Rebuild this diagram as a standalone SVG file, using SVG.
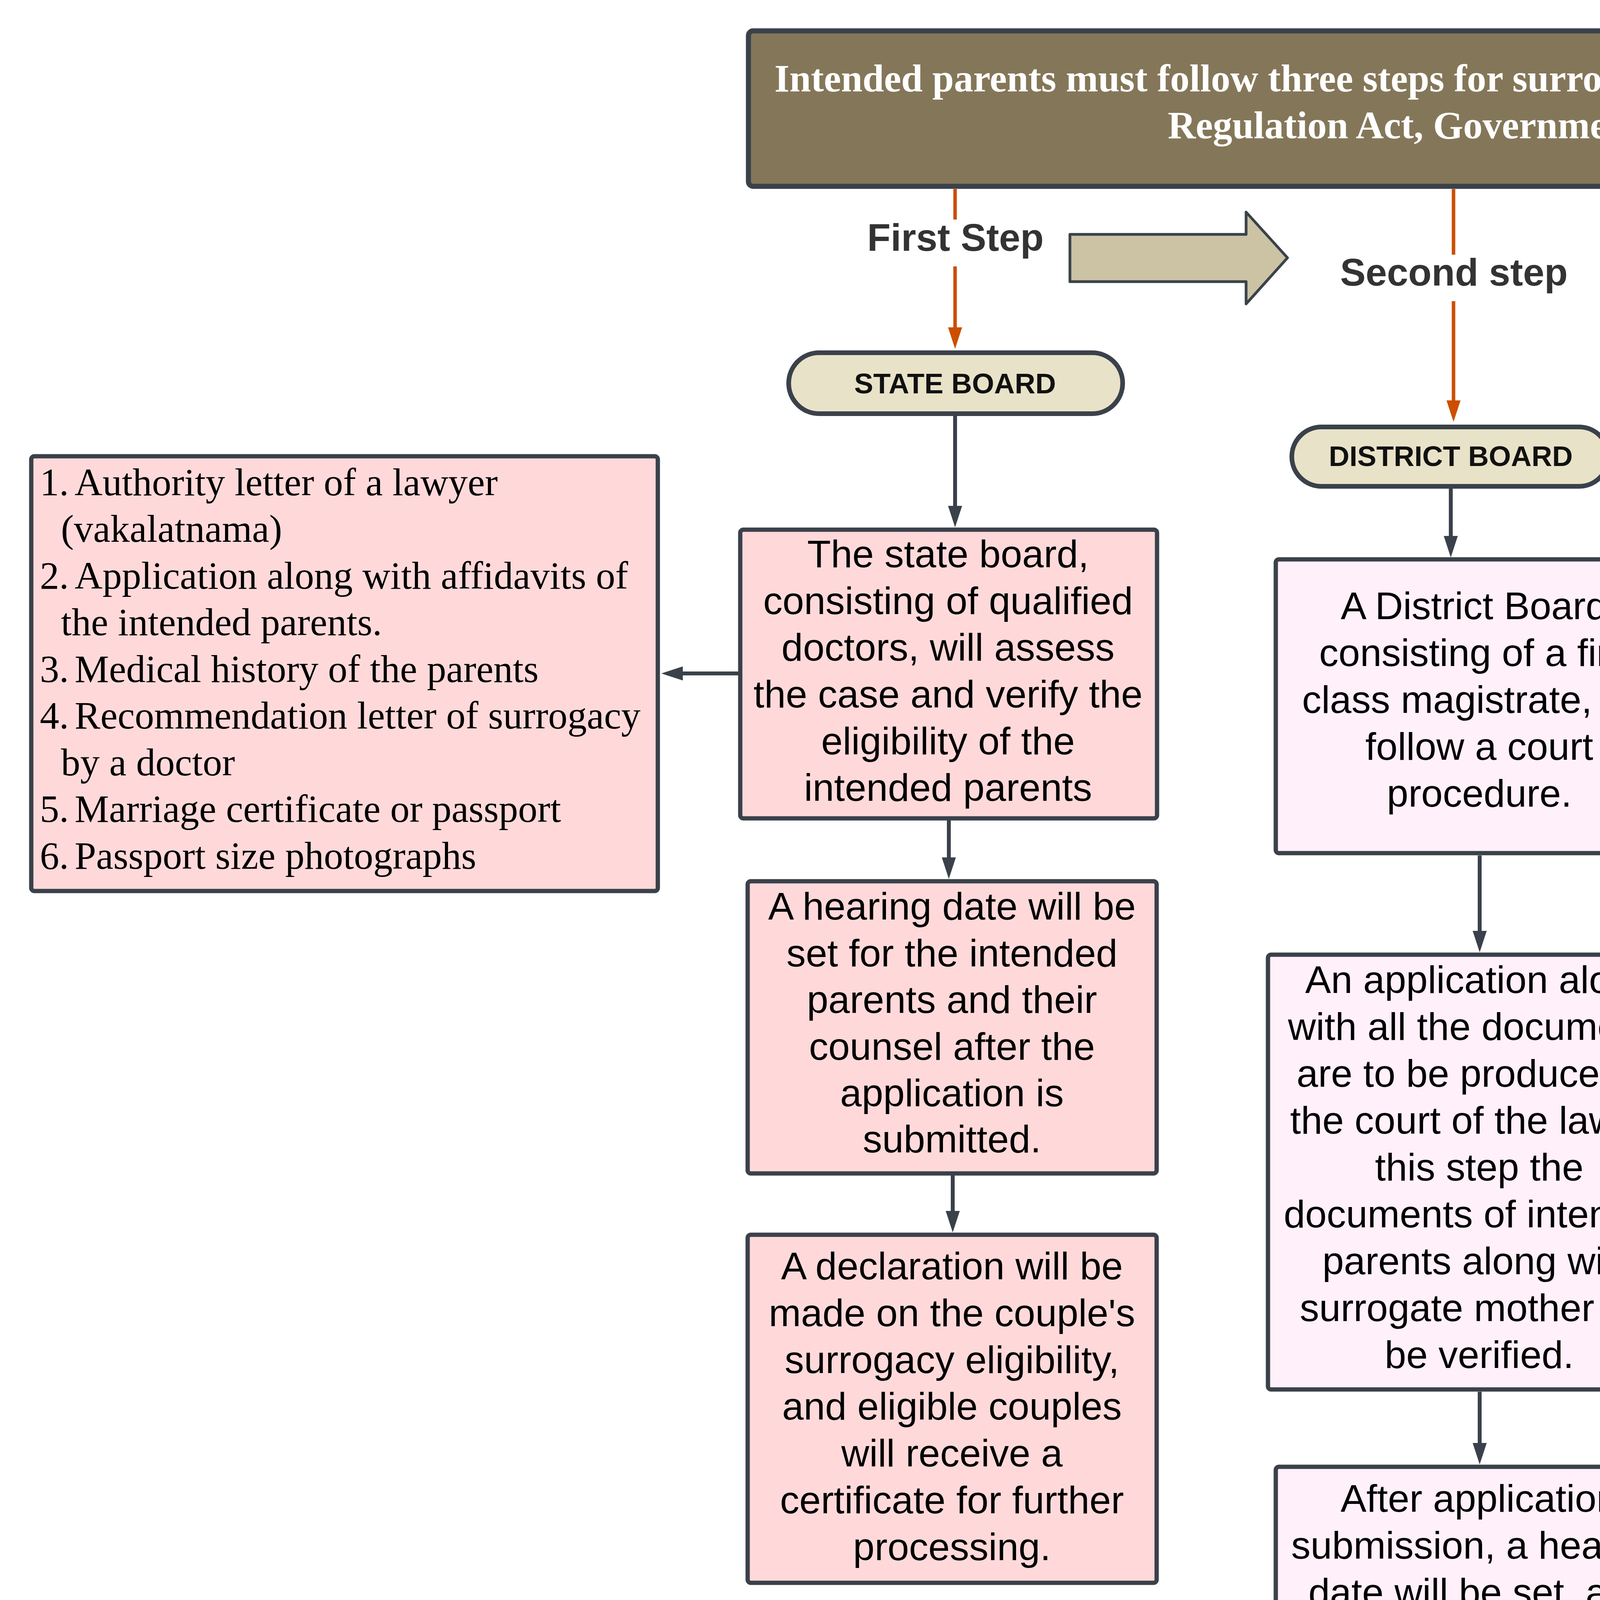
<svg xmlns="http://www.w3.org/2000/svg" width="5738" height="4871" viewBox="0 0 5738 4871">
<defs>
<style>
.box{stroke:#3a414a;stroke-width:11}
.a{fill:#FFD9DA}.b{fill:#FFF0FA}.c{fill:#D6F8F1}
.t{font-family:"Liberation Sans",Arial,sans-serif;font-size:99px;fill:#000;text-anchor:middle}
.lbl{font-family:"Liberation Sans",Arial,sans-serif;font-weight:bold;font-size:98px;fill:#333;text-anchor:middle}
.pill{fill:#E8E2C8;stroke:#3a414a;stroke-width:12}
.pt{font-family:"Liberation Sans",Arial,sans-serif;font-weight:bold;font-size:73px;fill:#111;text-anchor:middle}
.list{font-family:"Liberation Serif","Times New Roman",serif;font-size:99px;fill:#000}
.title{font-family:"Liberation Serif","Times New Roman",serif;font-weight:bold;font-size:99px;fill:#fff;text-anchor:middle}
.or{stroke:#CC4E00;stroke-width:9;fill:none}
.dk{stroke:#3a414a;stroke-width:10;fill:none}
.blk{fill:#CBC3A4;stroke:#3a414a;stroke-width:7;stroke-linejoin:round}
</style>
<marker id="mo" markerUnits="userSpaceOnUse" markerWidth="60" markerHeight="40" refX="0" refY="18" orient="auto">
<path d="M0,0 L55,18 L0,36 Z" fill="#CC4E00"/>
</marker>
<marker id="md" markerUnits="userSpaceOnUse" markerWidth="60" markerHeight="40" refX="0" refY="18" orient="auto">
<path d="M0,0 L55,18 L0,36 Z" fill="#3a414a"/>
</marker>
</defs>
<rect width="5738" height="4871" fill="#fff"/>

<g id="title">
<rect x="1916" y="79" width="3743" height="398" rx="12" fill="#847759" stroke="#3a414a" stroke-width="13"/>
<text class="title"><tspan x="3787" y="234">Intended parents must follow three steps for surrogacy approval under the Surrogacy</tspan><tspan x="3787" y="354">Regulation Act, Government of India.</tspan></text>
</g>

<g id="connectors">
<path class="or" d="M2445,484 V562"/>
<path class="or" d="M2445,682 V838" marker-end="url(#mo)"/>
<path class="or" d="M3721,484 V652"/>
<path class="or" d="M3721,771 V1025" marker-end="url(#mo)"/>
<path class="or" d="M5161,484 V602"/>
<path class="or" d="M5161,721 V837" marker-end="url(#mo)"/>
<path class="dk" d="M2445,1065 V1295" marker-end="url(#md)"/>
<path class="dk" d="M3714,1251 V1372" marker-end="url(#md)"/>
<path class="dk" d="M5110,1065 V1295" marker-end="url(#md)"/>
<path class="dk" d="M1892,1724 H1748" marker-end="url(#md)"/>
<path class="dk" d="M2429,2100 V2195" marker-end="url(#md)"/>
<path class="dk" d="M2439,3009 V3100" marker-end="url(#md)"/>
<path class="dk" d="M3788,2190 V2383" marker-end="url(#md)"/>
<path class="dk" d="M3788,3563 V3694" marker-end="url(#md)"/>
<path class="dk" d="M5138,2100 V2195" marker-end="url(#md)"/>
<path class="dk" d="M5138,3014 V3111" marker-end="url(#md)"/>
</g>

<g id="step-labels">
<text class="lbl" x="2446" y="642">First Step</text>
<text class="lbl" x="3722" y="731">Second step</text>
<text class="lbl" x="5160" y="681">Last Step</text>
</g>

<g id="block-arrow-1">
<path class="blk" d="M2739,600 L3190,600 L3190,543 L3296,660 L3190,778 L3190,721 L2739,721 Z"/>
</g>
<g id="block-arrow-2">
<path class="blk" d="M4163,600 L4613,600 L4613,543 L4720,662 L4613,783 L4613,724 L4163,724 Z"/>
</g>

<g id="state-board-1">
<rect class="pill" x="2019" y="903" width="855" height="156" rx="78"/>
<text class="pt" x="2445" y="1007">STATE BOARD</text>
</g>
<g id="district-board">
<rect class="pill" x="3307" y="1093" width="811" height="152" rx="76"/>
<text class="pt" x="3714" y="1193">DISTRICT BOARD</text>
</g>
<g id="state-board-2">
<rect class="pill" x="4664" y="903" width="892" height="156" rx="78"/>
<text class="pt" x="5111" y="1007">STATE BOARD</text>
</g>

<g id="documents-list">
<rect class="box a" x="80" y="1168" width="1604" height="1113" rx="8"/>
<text class="list">
<tspan x="102" y="1268">1.</tspan><tspan x="191" y="1268">Authority letter of a lawyer</tspan>
<tspan x="156" y="1387">(vakalatnama)</tspan>
<tspan x="102" y="1507">2.</tspan><tspan x="191" y="1507">Application along with affidavits of</tspan>
<tspan x="156" y="1626">the intended parents.</tspan>
<tspan x="102" y="1746">3.</tspan><tspan x="191" y="1746">Medical history of the parents</tspan>
<tspan x="102" y="1865">4.</tspan><tspan x="191" y="1865">Recommendation letter of surrogacy</tspan>
<tspan x="156" y="1985">by a doctor</tspan>
<tspan x="102" y="2104">5.</tspan><tspan x="191" y="2104">Marriage certificate or passport</tspan>
<tspan x="102" y="2224">6.</tspan><tspan x="191" y="2224">Passport size photographs</tspan>
</text>
</g>

<g id="a1">
<rect class="box a" x="1895" y="1356" width="1067" height="739" rx="8"/>
<text class="t"><tspan x="2427" y="1452">The state board,</tspan><tspan x="2427" y="1572">consisting of qualified</tspan><tspan x="2427" y="1691">doctors, will assess</tspan><tspan x="2427" y="1811">the case and verify the</tspan><tspan x="2427" y="1931">eligibility of the</tspan><tspan x="2427" y="2050">intended parents</tspan></text>
</g>
<g id="a2">
<rect class="box a" x="1914" y="2256" width="1047" height="748" rx="8"/>
<text class="t"><tspan x="2437" y="2354">A hearing date will be</tspan><tspan x="2437" y="2474">set for the intended</tspan><tspan x="2437" y="2593">parents and their</tspan><tspan x="2437" y="2713">counsel after the</tspan><tspan x="2437" y="2832">application is</tspan><tspan x="2437" y="2950">submitted.</tspan></text>
</g>
<g id="a3">
<rect class="box a" x="1914" y="3161" width="1047" height="891" rx="8"/>
<text class="t"><tspan x="2437" y="3275">A declaration will be</tspan><tspan x="2437" y="3395">made on the couple's</tspan><tspan x="2437" y="3515">surrogacy eligibility,</tspan><tspan x="2437" y="3634">and eligible couples</tspan><tspan x="2437" y="3754">will receive a</tspan><tspan x="2437" y="3874">certificate for further</tspan><tspan x="2437" y="3994">processing.</tspan></text>
</g>

<g id="b1">
<rect class="box b" x="3266" y="1432" width="1044" height="752" rx="8"/>
<text class="t"><tspan x="3787" y="1585">A District Board,</tspan><tspan x="3787" y="1705">consisting of a first</tspan><tspan x="3787" y="1825">class magistrate, will</tspan><tspan x="3787" y="1945">follow a court</tspan><tspan x="3787" y="2065">procedure.</tspan></text>
</g>
<g id="b2">
<rect class="box b" x="3246" y="2444" width="1083" height="1113" rx="8"/>
<text class="t"><tspan x="3787" y="2542">An application along</tspan><tspan x="3787" y="2662">with all the documents</tspan><tspan x="3787" y="2782">are to be produced in</tspan><tspan x="3787" y="2902">the court of the law. In</tspan><tspan x="3787" y="3022">this step the</tspan><tspan x="3787" y="3142">documents of intended</tspan><tspan x="3787" y="3262">parents along with</tspan><tspan x="3787" y="3382">surrogate mother will</tspan><tspan x="3787" y="3502">be verified.</tspan></text>
</g>
<g id="b3">
<rect class="box b" x="3266" y="3755" width="1044" height="1033" rx="8"/>
<text class="t"><tspan x="3787" y="3870">After application</tspan><tspan x="3787" y="3990">submission, a hearing</tspan><tspan x="3787" y="4110">date will be set, and</tspan><tspan x="3787" y="4229">upon the judge's</tspan><tspan x="3787" y="4349">satisfaction, a</tspan><tspan x="3787" y="4469">certificate will be</tspan><tspan x="3787" y="4589">issued to the</tspan><tspan x="3787" y="4708">surrogate mother.</tspan></text>
</g>

<g id="c1">
<rect class="box c" x="4615" y="1356" width="1043" height="739" rx="8"/>
<text class="t"><tspan x="5138" y="1510">The file and issued</tspan><tspan x="5138" y="1630">certificated will be</tspan><tspan x="5138" y="1750">submitted to the state</tspan><tspan x="5138" y="1870">board for final</tspan><tspan x="5138" y="1990">approval.</tspan></text>
</g>
<g id="c2">
<rect class="box c" x="4615" y="2256" width="1043" height="752" rx="8"/>
<text class="t"><tspan x="5138" y="2480">Once appproved, the</tspan><tspan x="5138" y="2600">intended parents can</tspan><tspan x="5138" y="2720">proceed with the</tspan><tspan x="5138" y="2840">surrogacy process</tspan></text>
</g>
<g id="c3">
<rect class="box c" x="4615" y="3172" width="1043" height="881" rx="8"/>
<text class="t"><tspan x="5138" y="3336">The surrogacy mother</tspan><tspan x="5138" y="3456">is selected and both</tspan><tspan x="5138" y="3576">the surrogate and the</tspan><tspan x="5138" y="3696">intended parents signs</tspan><tspan x="5138" y="3816">the legal agreement to</tspan><tspan x="5138" y="3936">move ahead.</tspan></text>
</g>
</svg>
